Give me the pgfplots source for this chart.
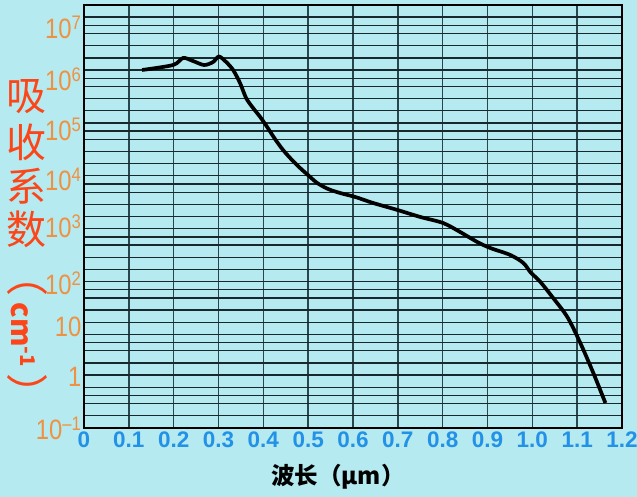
\documentclass[border=0pt]{standalone}
\usepackage{fontspec}
\setmainfont{Liberation Sans}
\newfontfamily\narrowfont[FakeStretch=0.85]{Liberation Sans}
\newfontfamily\cjk{Noto Sans CJK SC}
\usepackage{pgfplots}
\pgfplotsset{compat=1.18}
\definecolor{bg}{RGB}{180,234,240}
\definecolor{ytickc}{RGB}{240,145,65}
\definecolor{xtickc}{RGB}{35,145,230}
\definecolor{ylab}{RGB}{252,70,25}
\definecolor{gridh}{RGB}{25,40,45}
\definecolor{gridv}{RGB}{40,70,75}
\begin{document}
\begin{tikzpicture}
\fill[bg] (-84pt,-69pt) rectangle (553pt,428pt);
\begin{axis}[
  at={(0,0)}, anchor=south west,
  scale only axis, width=538pt, height=423pt,
  xmin=0, xmax=1.2, ymode=log, ymin=0.1, ymax=1e7,
  axis background/.style={fill=bg},
  axis line style={line width=1.5pt, black},
  xtick={0,0.1,0.2,0.3,0.4,0.5,0.6,0.7,0.8,0.9,1.0,1.1,1.2},
  xticklabels={0,0.1,0.2,0.3,0.4,0.5,0.6,0.7,0.8,0.9,1.0,1.1,1.2},
  ytick={0.1,0.923,8.13,53.7,646,5000,43700,389000,3720000},
  yticklabels={10\textsuperscript{–1},1,10,10\textsuperscript{2},10\textsuperscript{3},10\textsuperscript{4},10\textsuperscript{5},10\textsuperscript{6},10\textsuperscript{7}},
  minor ytick={0.1,0.170,0.288,0.412,0.589,
    1,1.70,2.88,4.12,5.89,
    10,17,28.8,41.2,58.9,
    100,170,288,412,589,
    1000,1700,2880,4120,5890,
    1e4,1.7e4,2.88e4,4.12e4,5.89e4,
    1e5,1.7e5,2.88e5,4.12e5,5.89e5,
    1e6,1.7e6,2.88e6,4.12e6,5.89e6,1e7},
  xmajorgrids=true, ymajorgrids=false, yminorgrids=true,
  major grid style={line width=1.5pt, color=gridv},
  minor grid style={line width=1.3pt, color=gridh},
  major tick length=0pt, minor tick length=0pt,
  xticklabel style={font=\bfseries\fontsize{22.5}{22.5}\selectfont, text=xtickc},
  yticklabel style={font=\narrowfont\fontsize{28}{28}\selectfont, text=ytickc, xshift=1pt},
]
\addplot[black, line width=3.7pt, smooth, tension=0.5] table {
x y
0.1295 5.90e5
0.1987 7.33e5
0.221 9.95e5
0.243 8.73e5
0.268 7.33e5
0.288 8.36e5
0.301 1.06e6
0.317 8.36e5
0.3326 5.90e5
0.348 3.35e5
0.3616 1.74e5
0.377 1.13e5
0.393 7.62e4
0.4085 4.93e4
0.426 2.92e4
0.444 1.81e4
0.464 1.17e4
0.482 8.26e3
0.502 5.83e3
0.520 4.31e3
0.5446 3.31e3
0.5714 2.78e3
0.605 2.34e3
0.645 1.80e3
0.699 1.33e3
0.75 980
0.801 753
0.839 509
0.877 330
0.906 254
0.951 187
0.980 132
0.9955 89.1
1.018 57.7
1.0446 30.1
1.078 12.6
1.107 4.06
1.136 1.10
1.163 0.297
};
\end{axis}
\node[text=ylab, font=\cjk\fontsize{40}{40}\selectfont] at (-57.5pt,331pt) {吸};
\node[text=ylab, font=\cjk\fontsize{40}{40}\selectfont] at (-57.5pt,286pt) {收};
\node[text=ylab, font=\cjk\fontsize{40}{40}\selectfont] at (-57.5pt,242pt) {系};
\node[text=ylab, font=\cjk\fontsize{40}{40}\selectfont] at (-57.5pt,199pt) {数};
\node[rotate=-90, text=ylab, inner sep=0pt, font=\cjk] at (-57pt,93pt) {{\fontsize{42}{42}\selectfont （}\hspace{6pt}{\fontsize{29}{29}\selectfont\bfseries cm\textsuperscript{-1}}\hspace{6pt}{\fontsize{42}{42}\selectfont ）}};
\node[font=\cjk\bfseries\fontsize{23.5}{23.5}\selectfont] at (254pt,-49pt) {波长（μm）};
\pgfresetboundingbox
\path[use as bounding box] (-84pt,-69pt) rectangle (553pt,428pt);
\end{tikzpicture}
\end{document}
